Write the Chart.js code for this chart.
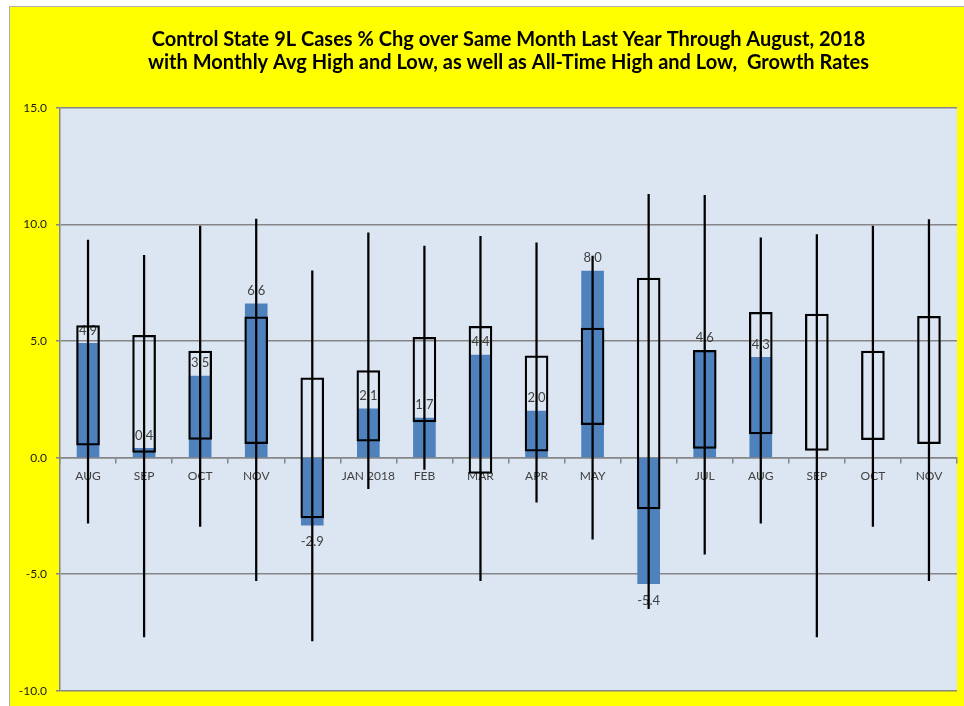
<!DOCTYPE html>
<html>
<head>
<meta charset="utf-8">
<script src="https://cdn.jsdelivr.net/npm/chart.js@4.4.0/dist/chart.umd.min.js"></script>
<style>
  html, body { margin: 0; padding: 0; background: #fff; }
  #frame {
    position: absolute; left: 9px; top: 6px;
    width: 955px; height: 700px;
    background: #ffff00;
    border-left: 1px solid #b0b0b0;
    border-top: 1px solid #b0b0b0;
  }
  #wrap { position: relative; width: 955px; height: 700px; }
</style>
</head>
<body>
<div id="frame"><div id="wrap"><canvas id="chart"></canvas></div></div>
<script>
// Months, Aug 2017 through Nov 2018
const months = ['AUG', 'SEP', 'OCT', 'NOV', 'DEC', 'JAN 2018', 'FEB', 'MAR', 'APR', 'MAY', 'JUN', 'JUL', 'AUG', 'SEP', 'OCT', 'NOV'];

// % chg over same month last year (no data yet for Sep-Nov 2018)
const growth = [4.9, 0.4, 3.5, 6.6, -2.9, 2.1, 1.7, 4.4, 2.0, 8.0, -5.4, 4.6, 4.3, null, null, null];

// monthly average high / low growth rates
const avgHigh = [5.67, 5.25, 4.57, 6.04, 3.43, 3.74, 5.16, 5.63, 4.37, 5.56, 7.70, 4.60, 6.24, 6.16, 4.57, 6.06];
const avgLow = [0.54, 0.23, 0.78, 0.60, -2.58, 0.71, 1.53, -0.68, 0.28, 1.42, -2.20, 0.40, 1.02, 0.31, 0.77, 0.60];

// all-time high / low growth rates
const allHigh = [9.33, 8.68, 9.93, 10.24, 8.01, 9.65, 9.08, 9.50, 9.22, 8.65, 11.30, 11.25, 9.43, 9.57, 9.93, 10.21];
const allLow = [-2.81, -7.69, -2.95, -5.28, -7.86, -1.33, -0.50, -5.28, -1.91, -3.50, -6.48, -4.14, -2.81, -7.69, -2.95, -5.28];

const titleLines = [
  'Control State 9L Cases % Chg over Same Month Last Year Through August, 2018',
  'with Monthly Avg High and Low, as well as All-Time High and Low,  Growth Rates'
];

// light blue plot area
const plotBg = {
  id: 'plotBg',
  beforeDraw(chart) {
    const { ctx, chartArea: a } = chart;
    ctx.save();
    ctx.fillStyle = '#dce6f2';
    ctx.fillRect(a.left, a.top, a.right - a.left, a.bottom - a.top);
    ctx.restore();
  }
};

// value labels at the end of the blue bars (drawn before boxes/whiskers)
const barLabels = {
  id: 'barLabels',
  afterDatasetDraw(chart, args) {
    if (chart.data.datasets[args.index].label !== 'Growth') return;
    const ctx = chart.ctx;
    ctx.save();
    ctx.font = '13px Lato';
    ctx.fillStyle = '#404040';
    ctx.textAlign = 'center';
    ctx.textBaseline = 'middle';
    args.meta.data.forEach((el, i) => {
      const v = growth[i];
      if (v === null) return;
      const y = v >= 0 ? el.y - 13 : el.y + 17;
      ctx.fillText(v.toFixed(1), el.x, y);
    });
    ctx.restore();
  }
};

new Chart(document.getElementById('chart'), {
  type: 'bar',
  data: {
    labels: months,
    datasets: [
      {
        label: 'All-Time High/Low',
        data: allLow.map((lo, i) => [lo, allHigh[i]]),
        backgroundColor: '#000',
        barThickness: 1.6,
        grouped: false,
        order: 0,
      },
      {
        label: 'Monthly Avg High/Low',
        data: avgLow.map((lo, i) => [lo, avgHigh[i]]),
        backgroundColor: 'rgba(0,0,0,0)',
        borderColor: '#000',
        borderWidth: 1.6,
        borderSkipped: false,
        barThickness: 23,
        grouped: false,
        order: 1,
      },
      {
        label: 'Growth',
        data: growth,
        backgroundColor: '#4f81bd',
        barThickness: 22,
        grouped: false,
        order: 2,
      }
    ]
  },
  options: {
    responsive: true,
    maintainAspectRatio: false,
    animation: false,
    layout: { padding: { left: 0, right: 8, top: 0, bottom: 12 } },
    plugins: {
      legend: { display: false },
      tooltip: { enabled: false },
      title: {
        display: true,
        text: titleLines,
        fullSize: false,
        color: '#000',
        font: { family: 'Lato', size: 20, weight: 'bold', lineHeight: 1.15 },
        padding: { top: 21, bottom: 34 },
      }
    },
    scales: {
      x: {
        position: { y: 0 },
        grid: { drawOnChartArea: false, tickLength: 5, color: '#868686', lineWidth: 1.5, offset: true },
        border: { color: '#868686', width: 1.5 },
        ticks: { color: '#404040', font: { family: 'Lato', size: 12 }, padding: 6, maxRotation: 0, autoSkip: false },
      },
      y: {
        min: -10,
        max: 15,
        ticks: { stepSize: 5, callback: v => v.toFixed(1), color: '#1a1a1a', font: { family: 'Lato', size: 12 }, padding: 9 },
        grid: { color: '#868686', lineWidth: 1.5, tickLength: 4 },
        border: { color: '#868686', width: 1.5 },
        afterFit(s) { s.width = 50; },
      }
    }
  },
  plugins: [plotBg, barLabels]
});
</script>
</body>
</html>
